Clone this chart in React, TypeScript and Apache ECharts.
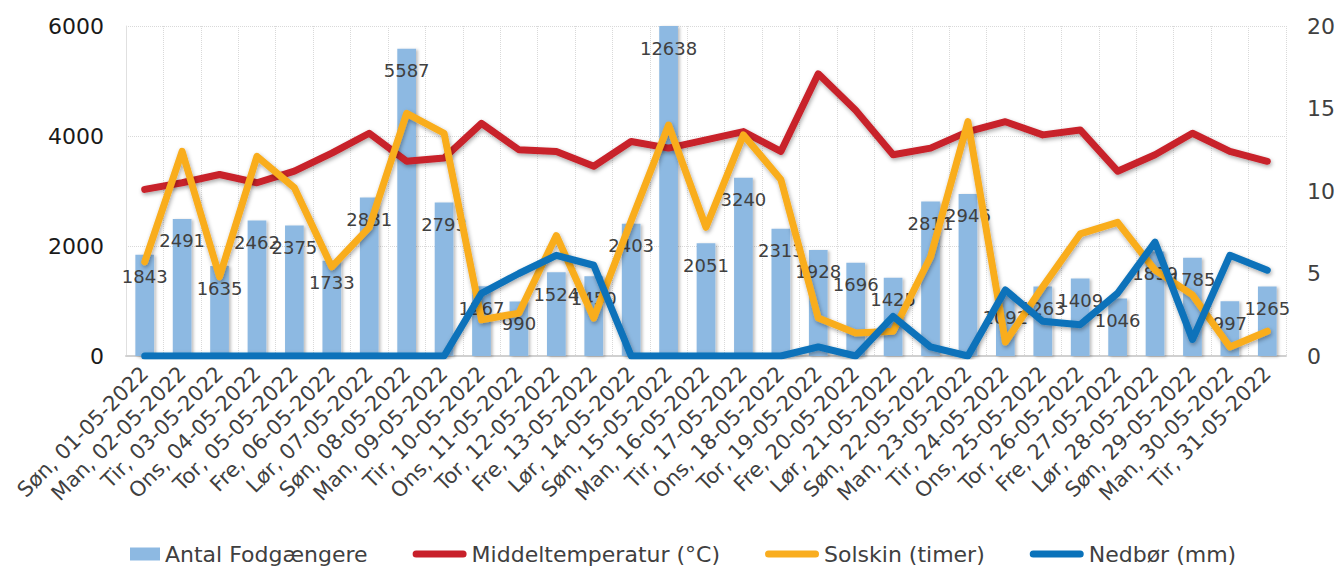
import React, { useEffect, useRef } from "react";
import * as echarts from "echarts";

const categories = [
  "Søn, 01-05-2022", "Man, 02-05-2022", "Tir, 03-05-2022", "Ons, 04-05-2022", "Tor, 05-05-2022",
  "Fre, 06-05-2022", "Lør, 07-05-2022", "Søn, 08-05-2022", "Man, 09-05-2022", "Tir, 10-05-2022",
  "Ons, 11-05-2022", "Tor, 12-05-2022", "Fre, 13-05-2022", "Lør, 14-05-2022", "Søn, 15-05-2022",
  "Man, 16-05-2022", "Tir, 17-05-2022", "Ons, 18-05-2022", "Tor, 19-05-2022", "Fre, 20-05-2022",
  "Lør, 21-05-2022", "Søn, 22-05-2022", "Man, 23-05-2022", "Tir, 24-05-2022", "Ons, 25-05-2022",
  "Tor, 26-05-2022", "Fre, 27-05-2022", "Lør, 28-05-2022", "Søn, 29-05-2022", "Man, 30-05-2022",
  "Tir, 31-05-2022",
];

const pedestrians = [
  1843, 2491, 1635, 2462, 2375, 1733, 2881, 5587, 2793, 1267, 990, 1524, 1450, 2403, 12638,
  2051, 3240, 2313, 1928, 1696, 1425, 2811, 2946, 1092, 1263, 1409, 1046, 1899, 1785, 997, 1265,
];

const temperature = [
  10.1, 10.5, 11.0, 10.5, 11.2, 12.3, 13.5, 11.8, 12.0, 14.1, 12.5, 12.4, 11.5, 13.0, 12.6,
  13.1, 13.6, 12.4, 17.1, 14.9, 12.2, 12.6, 13.6, 14.2, 13.4, 13.7, 11.2, 12.2, 13.5, 12.4, 11.8,
];

const sunshine = [
  5.7, 12.4, 4.8, 12.1, 10.2, 5.4, 7.8, 14.7, 13.5, 2.2, 2.6, 7.3, 2.3, 8.2, 14.0,
  7.8, 13.4, 10.7, 2.3, 1.4, 1.5, 6.0, 14.2, 0.85, 4.2, 7.4, 8.1, 5.2, 3.7, 0.55, 1.5,
];

const precipitation = [
  0, 0, 0, 0, 0, 0, 0, 0, 0, 3.8, 5.0, 6.1, 5.5, 0, 0,
  0, 0, 0, 0.55, 0, 2.4, 0.55, 0, 4.0, 2.1, 1.9, 3.8, 6.9, 1.0, 6.1, 5.2,
];

const leftTicks = { min: 0, max: 6000, interval: 2000 };
const rightTicks = { min: 0, max: 20, interval: 5 };

const FONT = "DejaVu Sans";

const BAR_ICON = "path://M0,0L0,0M24,0.5H54V13.5H24ZM54,14L54,14";
const LINE_ICON =
  "path://M0,0L0,0M3.5,3.5H50.5A3.5,3.5 0 0 1 50.5,10.5H3.5A3.5,3.5 0 0 1 3.5,3.5ZM54,14L54,14";

export default function App() {
  const ref = useRef<HTMLDivElement>(null);

  useEffect(() => {
    if (!ref.current) return;
    document.body.style.margin = "0";
    const chart = echarts.init(ref.current, undefined, { renderer: "svg" });
    const lineShadow = {
      shadowColor: "rgba(0,0,0,0.35)",
      shadowBlur: 4,
      shadowOffsetX: 1,
      shadowOffsetY: 2,
    };
    const mkLine = (name: string, data: number[], color: string) => ({
      name,
      type: "line",
      yAxisIndex: 1,
      data,
      symbol: "none",
      z: 3,
      lineStyle: { color, width: 7, cap: "round", join: "round", ...lineShadow },
      itemStyle: { color },
    });
    chart.setOption({
      animation: false,
      textStyle: { fontFamily: FONT },
      grid: { left: 126, right: 51, top: 26, bottom: 220, containLabel: false },
      legend: {
        bottom: 6,
        left: 101,
        itemGap: 45,
        itemWidth: 54,
        itemHeight: 14,
        textStyle: { fontFamily: FONT, fontSize: 22, color: "#404040" },
        data: [
          { name: "Antal Fodgængere", icon: BAR_ICON },
          { name: "Middeltemperatur (°C)", icon: LINE_ICON },
          { name: "Solskin (timer)", icon: LINE_ICON },
          { name: "Nedbør (mm)", icon: LINE_ICON },
        ],
      },
      xAxis: {
        type: "category",
        data: categories,
        boundaryGap: true,
        axisLine: { show: true, lineStyle: { color: "#D0D0D0", width: 2 } },
        axisTick: { show: false },
        axisLabel: {
          interval: 0,
          rotate: 45,
          fontSize: 21,
          color: "#404040",
          fontFamily: FONT,
          margin: 14,
        },
        splitLine: {
          show: true,
          interval: 0,
          lineStyle: { color: "#D9D9D9", type: "dotted", width: 1 },
        },
      },
      yAxis: [
        {
          type: "value",
          min: leftTicks.min,
          max: leftTicks.max,
          interval: leftTicks.interval,
          axisLine: { show: true, lineStyle: { color: "#E0E0E0", width: 1 } },
          axisTick: { show: false },
          axisLabel: {
            fontSize: 22,
            color: "#1a1a1a",
            margin: 22,
            fontFamily: FONT,
            formatter: (v: number) => String(v),
          },
          splitLine: { show: true, lineStyle: { color: "#D9D9D9", type: "dotted", width: 1 } },
        },
        {
          type: "value",
          position: "right",
          min: rightTicks.min,
          max: rightTicks.max,
          interval: rightTicks.interval,
          axisLine: { show: false },
          axisTick: { show: false },
          axisLabel: {
            fontSize: 22,
            color: "#404040",
            margin: 21,
            fontFamily: FONT,
            formatter: (v: number) => String(v),
          },
          splitLine: { show: false },
        },
      ],
      series: [
        {
          name: "Antal Fodgængere",
          type: "bar",
          yAxisIndex: 0,
          barWidth: "50%",
          data: pedestrians.map((v) => Math.min(v, leftTicks.max)),
          itemStyle: {
            color: "#8DB9E2",
            shadowColor: "rgba(0,0,0,0.25)",
            shadowBlur: 3,
            shadowOffsetX: 2,
            shadowOffsetY: 1,
          },
          label: {
            show: true,
            position: "insideTop",
            distance: 13,
            fontSize: 18,
            color: "#404040",
            fontFamily: FONT,
            formatter: (p: any) => String(pedestrians[p.dataIndex]),
          },
          z: 2,
        },
        mkLine("Middeltemperatur (°C)", temperature, "#C8202A"),
        mkLine("Solskin (timer)", sunshine, "#F9AD1F"),
        mkLine("Nedbør (mm)", precipitation, "#0A72BA"),
      ],
    });
    return () => chart.dispose();
  }, []);

  return <div ref={ref} style={{ width: 1338, height: 576 }} />;
}
